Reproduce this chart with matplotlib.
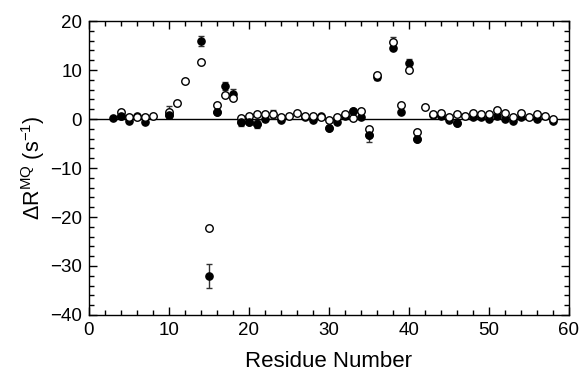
import numpy as np
import matplotlib
matplotlib.use("Agg")
import matplotlib.pyplot as plt

plt.rcParams['font.family'] = ['Liberation Sans', 'DejaVu Sans']
plt.rcParams['mathtext.fontset'] = 'custom'
plt.rcParams['mathtext.rm'] = 'Liberation Sans'
plt.rcParams['mathtext.it'] = 'Liberation Sans:italic'

nan = np.nan
residues = list(range(3, 59))
filled = [0.3, 0.7, -0.5, 0.7, -0.7, nan, nan, 0.9, nan, nan, nan, 15.9, -32.0, 1.4, 6.7, 5.2,
          -0.7, -0.7, -1.0, 0.1, nan, -0.2, nan, nan, 0.5, -0.2, 0.7, -1.8, -0.7, 0.7, 1.6, 0.5,
          -3.3, 8.5, nan, 14.4, 1.4, 11.5, -4.1, nan, 0.8, 0.7, -0.2, -0.9, nan, 0.5, 0.4, 0.1,
          0.7, 0.1, -0.5, 0.5, nan, 0.0, nan, -0.5]
opened = [nan, 1.5, 0.5, 0.5, 0.5, 0.7, nan, 1.5, 3.2, 7.8, nan, 11.6, -22.3, 2.9, 5.0, 4.2,
          0.3, 0.7, 1.0, 1.0, 1.0, 0.5, 0.7, 1.2, 0.7, 0.7, 0.5, -0.2, 0.5, 1.0, 0.3, 1.6,
          -2.1, 9.0, nan, 15.8, 2.8, 10.1, -2.7, 2.4, 1.0, 1.3, 0.5, 1.0, 0.7, 1.3, 1.0, 1.0,
          1.8, 1.3, 0.5, 1.3, 0.5, 1.0, 0.6, 0.1]
filled_err_res = [4, 14, 15, 17, 18, 19, 21, 35, 36, 40]
filled_err = [0.5, 1.0, 2.5, 0.8, 1.0, 0.8, 0.8, 1.3, 0.5, 0.8]
open_err_res = [4, 10, 23, 38]
open_err = [0.4, 1.2, 0.8, 1.0]

x = np.array(residues)
f = np.array(filled)
o = np.array(opened)

fig = plt.figure(figsize=(5.8, 3.82), dpi=100)
ax = fig.add_axes([0.1534, 0.1754, 0.8276, 0.7696])

ax.axhline(0, color='black', lw=1.0, zorder=1)

fe_y = [f[residues.index(r)] for r in filled_err_res]
ax.errorbar(filled_err_res, fe_y, yerr=filled_err, fmt='none', ecolor='#333333',
            elinewidth=1.0, capsize=2.5, capthick=1.0, zorder=2)
oe_y = [o[residues.index(r)] for r in open_err_res]
ax.errorbar(open_err_res, oe_y, yerr=open_err, fmt='none', ecolor='#333333',
            elinewidth=1.0, capsize=2.5, capthick=1.0, zorder=2)

ax.plot(x, f, linestyle='none', marker='o', ms=5.2, mfc='black', mec='black', mew=1.0, zorder=3)
ax.plot(x, o, linestyle='none', marker='o', ms=5.4, mfc='white', mec='black', mew=1.0, zorder=4)
# filled points that sit clearly on top in the reference
top = [r for r in residues if r in (4, 10, 16, 19, 20, 21, 30, 33, 35, 41, 46)]
ax.plot(top, [f[residues.index(r)] for r in top], linestyle='none', marker='o', ms=5.2,
        mfc='black', mec='black', mew=1.0, zorder=5)

ax.set_xlim(0, 60)
ax.set_ylim(-40, 20)
ax.set_xticks(range(0, 61, 10))
ax.set_yticks(range(-40, 21, 10))
ax.set_xticks(range(0, 61, 2), minor=True)
ax.set_yticks(range(-40, 21, 2), minor=True)
ax.set_yticklabels(['\u221240', '\u221230', '\u221220', '\u221210', '0', '10', '20'])
ax.tick_params(which='both', direction='in', top=True, right=True, width=1.0, labelsize=13.5, pad=5)
ax.tick_params(which='major', length=6)
ax.tick_params(which='minor', length=3.5)
for s in ax.spines.values():
    s.set_linewidth(1.0)

ax.set_xlabel('Residue Number', fontsize=16, labelpad=9)
ax.set_ylabel(r'$\Delta$R$^{\rm MQ}$ (s$^{-1}$)', fontsize=15.5, labelpad=2)

fig.savefig('out.png', dpi=100)
